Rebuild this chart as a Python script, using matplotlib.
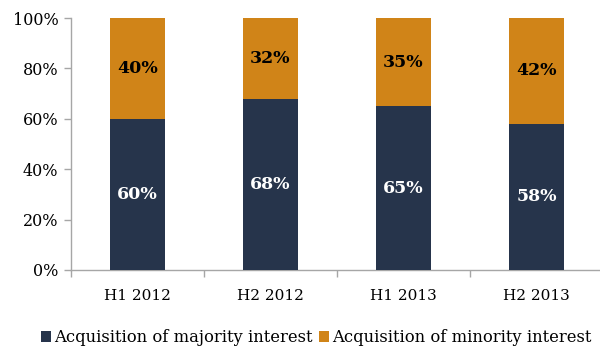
import matplotlib
matplotlib.use("Agg")
import matplotlib.pyplot as plt
from matplotlib.ticker import FuncFormatter

categories = ["H1 2012", "H2 2012", "H1 2013", "H2 2013"]
majority = [60, 68, 65, 58]
minority = [40, 32, 35, 42]
series_names = ["Acquisition of majority interest", "Acquisition of minority interest"]

navy = "#26344B"
orange = "#D08418"
axis_col = "#A6A6A6"

plt.rcParams["font.family"] = ["DejaVu Serif"]

fig = plt.figure(figsize=(6, 3.47), dpi=100)
ax = fig.add_axes([0.118, 0.222, 0.887, 0.726])

x = list(range(len(categories)))
w = 0.41
b1 = ax.bar(x, majority, width=w, color=navy, label=series_names[0], zorder=3)
b2 = ax.bar(x, minority, width=w, bottom=majority, color=orange, label=series_names[1], zorder=3)

for i in x:
    ax.text(i, majority[i] / 2, f"{majority[i]}%", ha="center", va="center",
            color="white", fontsize=12.5, fontweight="bold", zorder=4)
    ax.text(i, majority[i] + minority[i] / 2, f"{minority[i]}%", ha="center", va="center",
            color="black", fontsize=12.5, fontweight="bold", zorder=4)

ax.set_xlim(-0.5, len(categories) - 0.5)
ax.set_ylim(0, 100)
ax.set_yticks(range(0, 101, 20))
ax.yaxis.set_major_formatter(FuncFormatter(lambda v, p: f"{int(v)}%"))
ax.set_xticks(x)
ax.set_xticklabels(categories)
ax.set_xticks([i + 0.5 for i in range(-1, len(categories))], minor=True)
ax.tick_params(axis="x", which="major", length=0, pad=14, labelsize=11)
ax.tick_params(axis="x", which="minor", length=5, color=axis_col, width=1)
ax.tick_params(axis="y", length=5, color=axis_col, width=1, labelsize=11.5, pad=4)

for s in ["top", "right"]:
    ax.spines[s].set_visible(False)
for s in ["left", "bottom"]:
    ax.spines[s].set_color(axis_col)
    ax.spines[s].set_linewidth(1)

fig.legend(handles=[b1, b2], labels=series_names, loc="lower center",
           bbox_to_anchor=(0.527, -0.04), ncol=2, frameon=False, fontsize=11.8,
           handlelength=0.6, handleheight=0.6, handletextpad=0.2, columnspacing=0.4)

fig.savefig("out.png", dpi=100)
